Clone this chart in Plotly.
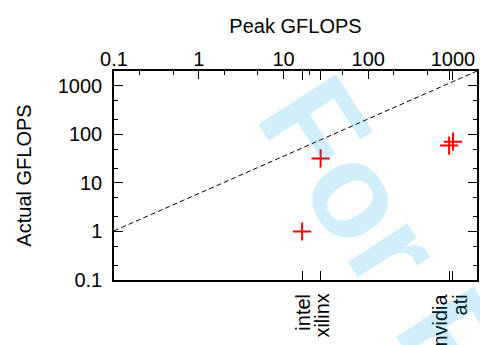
import math
import plotly.graph_objects as go

# ---- data ----
names = ["intel", "xilinx", "nvidia", "ati"]
peak_gflops = [16.6, 27.4, 900, 1000]
actual_gflops = [1.0, 32, 59, 71]
label_shift = [0, 1, -10, 7]

ref_peak = [0.1, 1920]
ref_actual = [1.03, 2030]

decades = [0.1, 1, 10, 100, 1000]
decade_text = ["0.1", "1", "10", "100", "1000"]
minor_vals = [0.2, 0.5, 2, 5, 20, 50, 200, 500]

x_range = [-1, math.log10(1920)]
y_range = [-1, math.log10(2030)]

FONT = "Liberation Sans, Arial, Helvetica, sans-serif"
FS = 20

fig = go.Figure()

fig.add_trace(go.Scatter(
    x=ref_peak, y=ref_actual, mode="lines",
    line=dict(color="black", width=1, dash="5px,3px"),
    hoverinfo="skip", showlegend=False,
))
fig.add_trace(go.Scatter(
    x=peak_gflops, y=actual_gflops, mode="markers",
    marker=dict(symbol="cross-thin", size=13, line=dict(color="red", width=2), color="red"),
    showlegend=False,
))
# invisible traces so the top axes are drawn
for ax in ["x2", "x3"]:
    fig.add_trace(go.Scatter(
        x=peak_gflops, y=actual_gflops, xaxis=ax, mode="markers",
        marker=dict(opacity=0), hoverinfo="skip", showlegend=False,
    ))

common = dict(type="log", range=x_range, showgrid=False, zeroline=False,
              automargin=False, color="black")

fig.update_layout(
    width=480, height=345,
    margin=dict(l=114, r=3, t=71, b=64.5, pad=0),
    paper_bgcolor="white", plot_bgcolor="white",
    template="none",
    font=dict(family=FONT, size=FS, color="black"),
    xaxis=dict(
        **common,
        tickmode="array", tickvals=peak_gflops, showticklabels=False,
        ticks="inside", ticklen=9, tickwidth=1, tickcolor="black",
        showline=True, linecolor="black", linewidth=1.5,
    ),
    xaxis2=dict(
        **common,
        overlaying="x", side="top", anchor="y",
        tickmode="array", tickvals=decades, ticktext=decade_text,
        ticks="inside", ticklen=8, tickwidth=1, tickcolor="black",
        ticklabelstandoff=-5,
        minor=dict(tickmode="array", tickvals=minor_vals, ticks="inside",
                   ticklen=4.5, tickwidth=1, tickcolor="black"),
        showline=True, linecolor="black", linewidth=1.5,
        title=dict(text="Peak GFLOPS", standoff=9, font=dict(size=FS)),
    ),
    xaxis3=dict(
        **common,
        overlaying="x", side="top", anchor="y",
        tickmode="array", tickvals=peak_gflops, showticklabels=False,
        ticks="inside", ticklen=9, tickwidth=1, tickcolor="black",
        showline=False,
    ),
    yaxis=dict(
        type="log", range=y_range, showgrid=False, zeroline=False,
        automargin=False, color="black",
        tickmode="array", tickvals=decades, ticktext=decade_text,
        ticks="inside", ticklen=9, tickwidth=1, tickcolor="black",
        ticklabelstandoff=6,
        minor=dict(tickmode="array", tickvals=minor_vals, ticks="inside",
                   ticklen=4.5, tickwidth=1, tickcolor="black"),
        showline=True, linecolor="black", linewidth=1.5, mirror="ticks",
        title=dict(text="Actual GFLOPS", standoff=21, font=dict(size=FS)),
    ),
)

# rotated category labels below the plot
for name, px, sh in zip(names, peak_gflops, label_shift):
    fig.add_annotation(
        x=math.log10(px), xref="x", y=0, yref="paper",
        text=name, textangle=-90, showarrow=False,
        xanchor="center", yanchor="top", xshift=sh, yshift=-12,
        font=dict(family=FONT, size=FS, color="black"),
    )

# watermark
fig.add_annotation(
    x=1.273, y=-1.19, xref="paper", yref="paper",
    text="For Peer Review", textangle=57, showarrow=False,
    xanchor="center", yanchor="middle",
    font=dict(family=FONT, size=134, color="rgba(0,158,227,0.18)", weight="bold"),
)

fig.write_html("out.html")
